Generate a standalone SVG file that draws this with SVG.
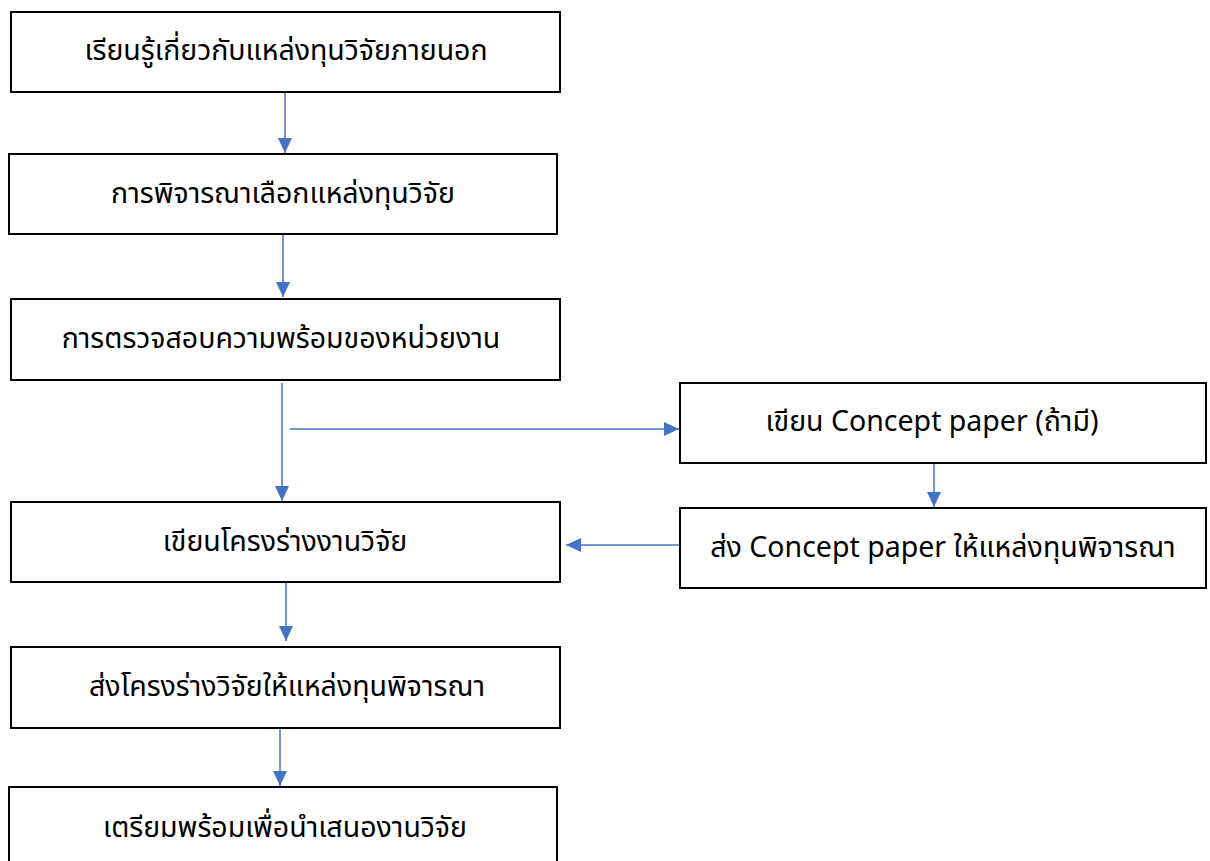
<svg xmlns="http://www.w3.org/2000/svg" width="1210" height="861" viewBox="0 0 1210 861">
<style>
.box{fill:#fff;stroke:#000;stroke-width:2}
.t{font-family:"Noto Sans","Noto Sans Thai","Noto Sans CJK SC",sans-serif;font-size:28.5px;fill:#000;text-anchor:middle;dominant-baseline:central}
.c{fill:none;stroke:#4472C4;stroke-width:1.5}
</style>
<defs>
<marker id="ah" markerUnits="userSpaceOnUse" markerWidth="16" markerHeight="16" viewBox="0 0 16 16" refX="15" refY="8" orient="auto">
<path d="M0,1 L15,8 L0,15 Z" fill="#4472C4"/>
</marker>
</defs>
<rect width="1210" height="861" fill="#fff"/>
<g id="connectors">
<line class="c" x1="285" y1="93" x2="285" y2="153" marker-end="url(#ah)"/>
<line class="c" x1="283" y1="235" x2="283" y2="297" marker-end="url(#ah)"/>
<line class="c" x1="282" y1="383" x2="282" y2="501" marker-end="url(#ah)"/>
<line class="c" x1="290" y1="429" x2="679" y2="429" marker-end="url(#ah)"/>
<line class="c" x1="934" y1="463" x2="934" y2="507" marker-end="url(#ah)"/>
<line class="c" x1="679" y1="545" x2="566" y2="545" marker-end="url(#ah)"/>
<line class="c" x1="286" y1="583" x2="286" y2="641" marker-end="url(#ah)"/>
<line class="c" x1="280" y1="728" x2="280" y2="786" marker-end="url(#ah)"/>
</g>
<g id="n1"><rect class="box" x="11" y="12" width="549" height="80"/><text class="t" x="286" y="49">เรียนรู้เกี่ยวกับแหล่งทุนวิจัยภายนอก</text></g>
<g id="n2"><rect class="box" x="9" y="154" width="548" height="80"/><text class="t" x="283" y="192">การพิจารณาเลือกแหล่งทุนวิจัย</text></g>
<g id="n3"><rect class="box" x="11" y="299" width="549" height="81"/><text class="t" x="281" y="337">การตรวจสอบความพร้อมของหน่วยงาน</text></g>
<g id="n4"><rect class="box" x="680" y="383" width="526" height="80"/><text class="t" x="932" y="420">เขียน Concept paper (ถ้ามี)</text></g>
<g id="n5"><rect class="box" x="680" y="508" width="526" height="80"/><text class="t" x="943" y="546">ส่ง Concept paper ให้แหล่งทุนพิจารณา</text></g>
<g id="n6"><rect class="box" x="11" y="502" width="549" height="80"/><text class="t" x="285" y="540">เขียนโครงร่างงานวิจัย</text></g>
<g id="n7"><rect class="box" x="11" y="647" width="549" height="81"/><text class="t" x="287" y="685">ส่งโครงร่างวิจัยให้แหล่งทุนพิจารณา</text></g>
<g id="n8"><rect class="box" x="9" y="787" width="548" height="90"/><text class="t" x="285" y="826">เตรียมพร้อมเพื่อนำเสนองานวิจัย</text></g>
</svg>
